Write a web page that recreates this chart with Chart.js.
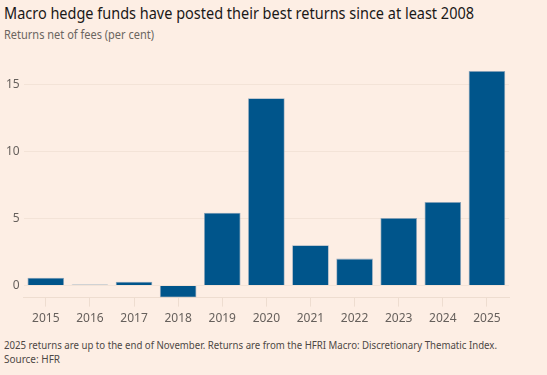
<!DOCTYPE html>
<html>
<head>
<meta charset="utf-8">
<script src="https://cdn.jsdelivr.net/npm/chart.js@4"></script>
<style>
  html, body { margin: 0; padding: 0; }
  body {
    width: 547px;
    height: 375px;
    background: #fdeee4;
    font-family: "Noto Sans", sans-serif;
    position: relative;
    overflow: hidden;
  }
  .fit { position: absolute; left: 4px; white-space: nowrap; transform-origin: 0 0; line-height: normal; }
  #title { top: 1px; font-size: 16.5px; color: #1a1817; }
  #subtitle { top: 26px; font-size: 11.8px; color: #6b6560; }
  #note1 { top: 337px; font-size: 11px; color: #4d4845; }
  #note2 { top: 351px; font-size: 11px; color: #4d4845; }
  #wrap { position: absolute; left: 0; top: 50px; width: 547px; height: 281px; }
</style>
</head>
<body>
<div id="title" class="fit" data-w="470">Macro hedge funds have posted their best returns since at least 2008</div>
<div id="subtitle" class="fit" data-w="150">Returns net of fees (per cent)</div>
<div id="wrap"><canvas id="chart"></canvas></div>
<div id="note1" class="fit" data-w="493">2025 returns are up to the end of November. Returns are from the HFRI Macro: Discretionary Thematic Index.</div>
<div id="note2" class="fit" data-w="56">Source: HFR</div>
<script>
const years = ["2015", "2016", "2017", "2018", "2019", "2020", "2021", "2022", "2023", "2024", "2025"]
const returns = [0.58, 0.06, 0.28, -0.91, 5.42, 13.97, 3.0, 2.0, 5.03, 6.22, 16.0]
const yTicks = [0, 5, 10, 15]

const BLUE = "#00558b"
const TEXT = "#66605c"

// squeeze the text lines to the widths of the narrow original face
document.querySelectorAll(".fit").forEach((el) => {
  const w = el.getBoundingClientRect().width
  el.style.transform = `scaleX(${el.dataset.w / w})`
})

new Chart(document.getElementById("chart"), {
  type: "bar",
  data: {
    labels: years,
    datasets: [
      {
        data: returns,
        backgroundColor: BLUE,
        borderColor: "#93a8bc",
        borderWidth: 0.8,
        barPercentage: 0.83,
        categoryPercentage: 1,
      },
    ],
  },
  options: {
    animation: false,
    responsive: true,
    maintainAspectRatio: false,
    layout: { padding: { top: 21, right: 38, left: 2, bottom: 0 } },
    plugins: {
      legend: { display: false },
      tooltip: { enabled: false },
    },
    scales: {
      x: {
        grid: {
          offset: false,
          drawOnChartArea: false,
          drawTicks: true,
          tickLength: 9,
          color: "#eeddd0",
        },
        border: { display: true, color: "#eeddd0" },
        ticks: {
          color: TEXT,
          padding: 5,
          font: { family: "Noto Sans", size: 12 },
          maxRotation: 0,
        },
      },
      y: {
        min: Math.min(...returns),
        max: Math.max(...returns),
        afterBuildTicks: (axis) => {
          axis.ticks = yTicks.map((v) => ({ value: v }))
        },
        grid: { color: "#f3e3d7", drawTicks: false },
        border: { display: false },
        ticks: {
          color: TEXT,
          padding: 4,
          font: { family: "Noto Sans", size: 12 },
        },
      },
    },
  },
})
</script>
</body>
</html>
